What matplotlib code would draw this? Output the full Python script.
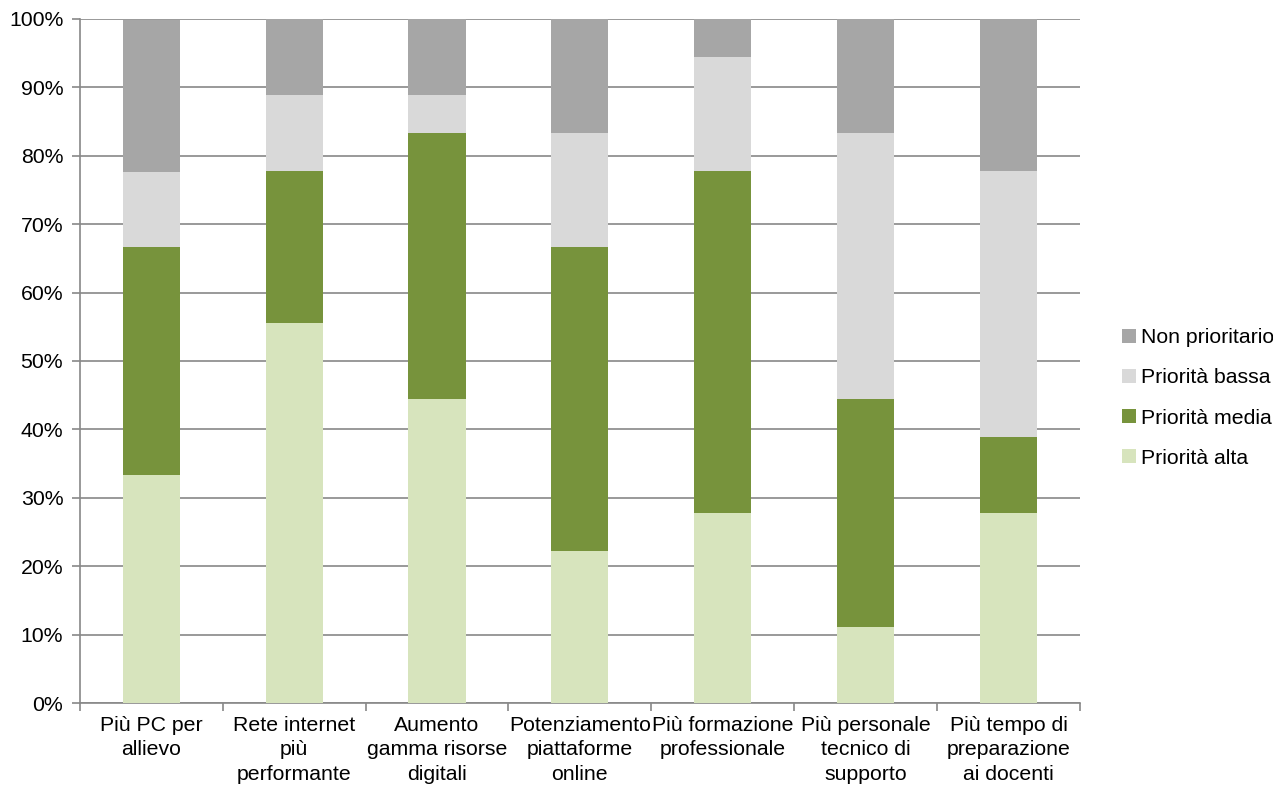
import numpy as np
import matplotlib.pyplot as plt
from matplotlib.ticker import PercentFormatter

plt.rcParams['font.family'] = ['Liberation Sans', 'DejaVu Sans']

categories = ["Più PC per\nallievo", "Rete internet\npiù\nperformante",
              "Aumento\ngamma risorse\ndigitali", "Potenziamento\npiattaforme\nonline",
              "Più formazione\nprofessionale", "Più personale\ntecnico di\nsupporto",
              "Più tempo di\npreparazione\nai docenti"]
alta = [33.3, 55.6, 44.4, 22.2, 27.8, 11.1, 27.8]
media = [33.3, 22.2, 38.9, 44.4, 50.0, 33.3, 11.1]
bassa = [11.1, 11.1, 5.6, 16.7, 16.7, 38.9, 38.9]
non_prio = [22.2, 11.1, 11.1, 16.7, 5.6, 16.7, 22.2]

series = [("Priorità alta", alta, "#d7e4bd"),
          ("Priorità media", media, "#77933c"),
          ("Priorità bassa", bassa, "#d9d9d9"),
          ("Non prioritario", non_prio, "#a6a6a6")]

fig = plt.figure(figsize=(12.73, 7.87), dpi=100)
ax = fig.add_axes([0.0628, 0.1067, 0.7855, 0.8692])

x = np.arange(len(categories))
bottom = np.zeros(len(categories))
handles = []
for name, vals, col in series:
    b = ax.bar(x, vals, 0.4, bottom=bottom, color=col, label=name, zorder=3)
    bottom += np.array(vals)
    handles.append(b)

ax.set_xlim(-0.5, len(categories) - 0.5)
ax.set_ylim(0, 100)
ax.set_yticks(np.arange(0, 101, 10))
ax.yaxis.set_major_formatter(PercentFormatter(decimals=0))
ax.grid(axis='y', color='#888888', linewidth=1.2, zorder=0)
ax.set_axisbelow(True)

ax.set_xticks(x)
ax.set_xticklabels(categories, fontsize=15.3, linespacing=1.38)
ax.set_xticks(np.arange(-0.5, len(categories), 1), minor=True)
ax.tick_params(axis='x', which='major', length=0, pad=9)
ax.tick_params(axis='x', which='minor', length=6, color='#888888', width=1.2)
ax.tick_params(axis='y', length=6, color='#888888', width=1.2, labelsize=15.3, pad=6)

for s in ['top', 'right']:
    ax.spines[s].set_visible(False)
for s in ['left', 'bottom']:
    ax.spines[s].set_color('#888888')
    ax.spines[s].set_linewidth(1.2)

leg = ax.legend(handles[::-1], [s[0] for s in series][::-1],
                loc='center left', bbox_to_anchor=(1.042, 0.446), frameon=False,
                fontsize=15.3, handlelength=0.65, handleheight=0.65,
                handletextpad=0.25, labelspacing=1.0, borderpad=0, borderaxespad=0)

fig.savefig('out.png', dpi=100)
